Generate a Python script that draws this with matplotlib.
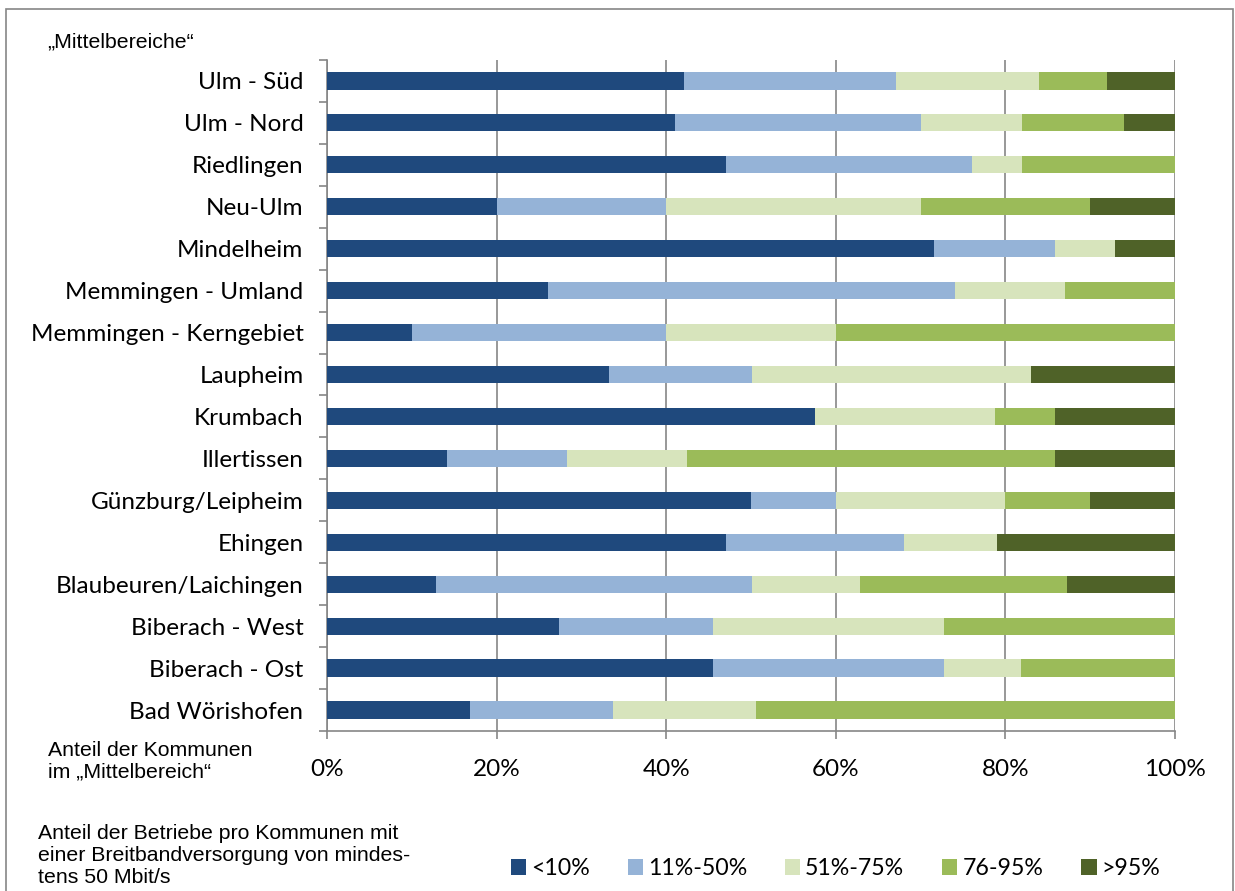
import matplotlib.pyplot as plt
import numpy as np
from matplotlib.patches import Rectangle

# categories top to bottom as shown
regions = ["Ulm - Süd", "Ulm - Nord", "Riedlingen", "Neu-Ulm", "Mindelheim",
           "Memmingen - Umland", "Memmingen - Kerngebiet", "Laupheim", "Krumbach",
           "Illertissen", "Günzburg/Leipheim", "Ehingen", "Blaubeuren/Laichingen",
           "Biberach - West", "Biberach - Ost", "Bad Wörishofen"]

# share of communes (%) per class
lt10 = [42.1, 41.0, 47.1, 20.0, 71.6, 26.1, 10.0, 33.2, 57.6, 14.2, 50.0, 47.1, 12.8, 27.4, 45.5, 16.9]
p11_50 = [25.0, 29.0, 29.0, 20.0, 14.2, 47.9, 30.0, 16.9, 0.0, 14.1, 10.0, 20.9, 37.3, 18.1, 27.3, 16.8]
p51_75 = [16.9, 12.0, 5.9, 30.0, 7.1, 13.0, 20.0, 32.9, 21.2, 14.2, 20.0, 11.0, 12.7, 27.3, 9.1, 16.9]
p76_95 = [8.0, 12.0, 18.0, 20.0, 0.0, 13.0, 40.0, 0.0, 7.1, 43.4, 10.0, 0.0, 24.5, 27.2, 18.1, 49.4]
gt95 = [8.0, 6.0, 0.0, 10.0, 7.1, 0.0, 0.0, 17.0, 14.1, 14.1, 10.0, 21.0, 12.7, 0.0, 0.0, 0.0]

series = [lt10, p11_50, p51_75, p76_95, gt95]
labels = ["<10%", "11%-50%", "51%-75%", "76-95%", ">95%"]
colors = ["#1F497D", "#95B3D7", "#D7E4BC", "#9BBB59", "#4F6228"]

fig = plt.figure(figsize=(12.35, 8.91), dpi=100)
ax = fig.add_axes([0.2648, 0.1796, 0.6866, 0.7531])

y = np.arange(len(regions))
left = np.zeros(len(regions))
handles = []
for vals, lab, col in zip(series, labels, colors):
    b = ax.barh(y, vals, left=left, height=0.41, color=col, label=lab, zorder=3)
    handles.append(b)
    left = left + np.array(vals)

ax.set_xlim(0, 100)
ax.set_ylim(len(regions) - 0.5, -0.5)
ax.set_xticks([0, 20, 40, 60, 80, 100])
ax.set_xticklabels(["0%", "20%", "40%", "60%", "80%", "100%"])
ax.set_yticks(y)
ax.set_yticklabels(regions)
ax.set_yticks(np.arange(-0.5, len(regions), 1), minor=True)

ax.grid(axis="x", color="#868686", linewidth=1.2, zorder=0)
for s in ["top", "right"]:
    ax.spines[s].set_visible(False)
for s in ["left", "bottom"]:
    ax.spines[s].set_color("#868686")
    ax.spines[s].set_linewidth(1.2)

fs = 17.5
ax.tick_params(axis="y", which="major", length=0, pad=17, labelsize=fs)
ax.tick_params(axis="y", which="minor", length=6, color="#868686", width=1.2)
ax.tick_params(axis="x", length=6, color="#868686", width=1.2, pad=14, labelsize=fs)
for t in ax.get_xticklabels() + ax.get_yticklabels():
    t.set_fontfamily("Lato")

note = dict(fontsize=15.3, family="Liberation Sans", va="center", linespacing=1.18)
fig.text(0.038, 0.953, "„Mittelbereiche“", **note)
fig.text(0.039, 0.146, "Anteil der Kommunen\nim „Mittelbereich“", **note)
fig.text(0.031, 0.040, "Anteil der Betriebe pro Kommunen mit\neiner Breitbandversorgung von mindes-\ntens 50 Mbit/s", **note)

leg = fig.legend(handles=handles, labels=labels, loc="center left", bbox_to_anchor=(0.3965, 0.025),
                 ncol=5, frameon=False, handlelength=0.65, handleheight=0.65, handletextpad=0.22,
                 columnspacing=1.64, prop={"family": "Lato", "size": 16.7})

# outer frame of the chart area
fig.patches.append(Rectangle((0.005, -0.01), 0.993, 1.0, transform=fig.transFigure,
                             fill=False, edgecolor="#868686", linewidth=1.2))

fig.savefig("out.png", dpi=100)
